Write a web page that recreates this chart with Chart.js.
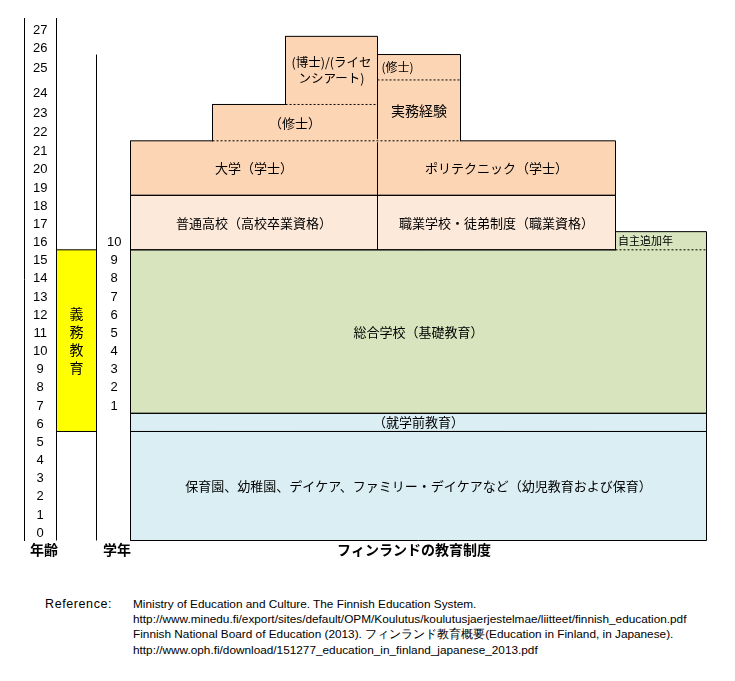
<!DOCTYPE html>
<html lang="ja">
<head>
<meta charset="utf-8">
<script src="https://cdn.jsdelivr.net/npm/chart.js@4.4.1/dist/chart.umd.min.js"></script>
<style>
  body { margin: 0; background: #fff; }
  #wrap { position: relative; width: 735px; height: 681px; }
  canvas { position: absolute; left: 0; top: 0; }
  .ref { position: absolute; font-family: "Liberation Sans", Arial, sans-serif; font-size: 11.8px; line-height: 14px; color: #000; white-space: nowrap; }
</style>
</head>
<body>
<div id="wrap">
  <canvas id="eduChart" width="735" height="575"></canvas>
  <div class="ref" style="left:45px;top:597px;font-size:12.5px;letter-spacing:0.6px;">Reference:</div>
  <div class="ref" style="left:133px;top:597px;">Ministry of Education and Culture. The Finnish Education System.</div>
  <div class="ref" style="left:133px;top:612px;">http://www.minedu.fi/export/sites/default/OPM/Koulutus/koulutusjaerjestelmae/liitteet/finnish_education.pdf</div>
  <div class="ref" style="left:133px;top:627px;">Finnish National Board of Education (2013). フィンランド教育概要(Education in Finland, in Japanese).</div>
  <div class="ref" style="left:133px;top:643px;">http://www.oph.fi/download/151277_education_in_finland_japanese_2013.pdf</div>
</div>
<script>
// ages on the left axis; the rows get taller near the top of the sheet
var ages = [0, 1, 2, 3, 4, 5, 6, 7, 8, 9, 10, 11, 12, 13, 14, 15, 16, 17, 18, 19, 20, 21, 22, 23, 24, 25, 26, 27];
var agePos = [0.4, 1.4, 2.4, 3.4, 4.4, 5.4, 6.4, 7.4, 8.4, 9.4, 10.4, 11.4, 12.4, 13.4, 14.4, 15.4,
              16.4, 17.4, 18.4, 19.4, 20.4, 21.4, 22.45, 23.5, 24.6, 26.0, 27.1, 28.1];

// school years and the age row each one sits on
var grades = [1, 2, 3, 4, 5, 6, 7, 8, 9, 10];
var gradeAge = [7, 8, 9, 10, 11, 12, 13, 14, 15, 16];

// stages of the system (age rows from / to)
var stageNames = [
  '保育園、幼稚園、デイケア、ファミリー・デイケアなど（幼児教育および保育）',
  '（就学前教育）',
  '総合学校（基礎教育）',
  '自主追加年',
  '普通高校（高校卒業資格）',
  '職業学校・徒弟制度（職業資格）',
  '大学（学士）',
  'ポリテクニック（学士）',
  '（修士）',
  '(博士)/(ライセ\nンシアート)',
  '実務経験',
  '(修士)',
  '義務教育'
];
var stageFrom = [0, 6, 7, 16, 16, 16, 19, 19, 22, 24, 22, 25.35, 6];
var stageTo   = [6, 7, 16, 17, 19, 19, 22, 22, 24, 27.75, 25.35, 26.75, 16];
var stageKind = ['care', 'care', 'basic', 'basic', 'upper', 'upper', 'higher', 'higher',
                 'higher', 'higher', 'higher', 'higher', 'compulsory'];

var axisLabels = ['年齢', '学年', 'フィンランドの教育制度'];

// drawing layout (columns in x units, text styles, dotted dividers)
var layout = {
  top: 28.76,
  cols: [[106, 682], [106, 682], [106, 682], [591, 682], [106, 353], [353, 591], [106, 353],
         [353, 591], [188, 353], [261, 353], [353, 436], [353, 436], [32, 72]],
  text: [{size: 13}, {size: 13}, {size: 13}, {size: 11, align: 'left', inset: 2.5},
         {size: 13}, {size: 13}, {size: 13}, {size: 13}, {size: 13},
         {size: 12.5, step: 16}, {size: 14}, {size: 12, align: 'left', inset: 4},
         {size: 14, vertical: true, step: 18}],
  dividers: [{stage: 3, x: [591, 682]}, {stage: 8, x: [188, 436]},
             {stage: 9, x: [261, 353]}, {stage: 11, x: [353, 436]}],
  ageLineX: 32,
  gradeLineX: 72,
  gradeLineTop: 26.75,
  axisLabelX: [19.5, 92.5, 389.5]
};

var fills = {care: '#DBEEF3', basic: '#D7E4BD', upper: '#FDE9D9', higher: '#FCD5B5', compulsory: '#FFFF00'};

function rect(x0, x1, y0, y1) {
  return [{x: x0, y: y0}, {x: x1, y: y0}, {x: x1, y: y1}, {x: x0, y: y1}, {x: x0, y: y0}];
}

var datasets = [];
stageNames.forEach(function (name, i) {
  var c = layout.cols[i];
  datasets.push({
    label: name,
    data: rect(c[0], c[1], stageFrom[i], stageTo[i]),
    backgroundColor: fills[stageKind[i]],
    borderColor: '#000',
    borderWidth: 1,
    fill: 'shape',
    order: 4
  });
});

// plain vertical rules of the age / grade columns
datasets.push({data: [{x: layout.ageLineX, y: 0}, {x: layout.ageLineX, y: layout.top}],
  borderColor: '#000', borderWidth: 1, fill: false, order: 3});
datasets.push({data: [{x: layout.gradeLineX, y: 0}, {x: layout.gradeLineX, y: layout.gradeLineTop}],
  borderColor: '#000', borderWidth: 1, fill: false, order: 3});

// dotted dividers: cover the solid edge with the box colour, then dot it
layout.dividers.forEach(function (d) {
  var y = stageFrom[d.stage];
  datasets.push({data: [{x: d.x[0] + 0.5, y: y}, {x: d.x[1] - 0.5, y: y}],
    borderColor: fills[stageKind[d.stage]], borderWidth: 3, fill: false, order: 2});
  datasets.push({data: [{x: d.x[0], y: y}, {x: d.x[1], y: y}],
    borderColor: '#000', borderWidth: 1, borderDash: [2, 2], fill: false, order: 1});
});

var boxText = {
  id: 'boxText',
  afterDatasetsDraw: function (chart) {
    var ctx = chart.ctx, xs = chart.scales.x, ys = chart.scales.y;
    ctx.save();
    ctx.fillStyle = '#000';
    ctx.textBaseline = 'middle';
    stageNames.forEach(function (name, i) {
      var col = layout.cols[i], t = layout.text[i];
      var left = xs.getPixelForValue(col[0]), right = xs.getPixelForValue(col[1]);
      var midY = (ys.getPixelForValue(stageFrom[i]) + ys.getPixelForValue(stageTo[i])) / 2;
      ctx.font = t.size + 'px "Noto Sans CJK JP"';
      var lines = t.vertical ? Array.from(name) : name.split('\n');
      var step = t.step || t.size + 3;
      var y0 = midY - (lines.length - 1) * step / 2;
      lines.forEach(function (line, k) {
        if (t.align === 'left') {
          ctx.textAlign = 'left';
          ctx.fillText(line, left + t.inset, y0 + k * step);
        } else {
          ctx.textAlign = 'center';
          ctx.fillText(line, (left + right) / 2, y0 + k * step);
        }
      });
    });
    ctx.restore();
  }
};

function flatAxis(s) {
  s.width = 0;
  s.paddingTop = 0;
  s.paddingBottom = 0;
}

Chart.defaults.font.family = '"Noto Sans CJK JP", sans-serif';
Chart.defaults.color = '#000';

var ctx = document.getElementById('eduChart').getContext('2d');
var eduChart = new Chart(ctx, {
  type: 'line',
  data: {datasets: datasets},
  plugins: [boxText],
  options: {
    responsive: false,
    animation: false,
    events: [],
    clip: false,
    layout: {padding: {left: 24.5, right: 27.5, top: 18, bottom: 12.5}},
    elements: {point: {radius: 0}, line: {tension: 0}},
    plugins: {
      legend: {display: false},
      tooltip: {enabled: false},
      filler: {drawTime: 'beforeDatasetsDraw'}
    },
    scales: {
      x: {
        type: 'linear',
        min: 0,
        max: 683,
        grid: {display: false, drawTicks: false},
        border: {display: false},
        ticks: {
          autoSkip: false,
          maxRotation: 0,
          padding: 1,
          font: {size: 14, weight: 'bold'},
          callback: function (v, i) { return axisLabels[i]; }
        },
        afterBuildTicks: function (s) {
          s.ticks = layout.axisLabelX.map(function (v) { return {value: v}; });
        },
        afterFit: function (s) {
          s.height = 22;
          s.paddingLeft = 0;
          s.paddingRight = 0;
        }
      },
      y: {
        type: 'linear',
        position: 'left',
        min: 0,
        max: layout.top,
        weight: 1,
        grid: {display: false, drawTicks: false},
        border: {display: true, color: '#000', width: 1},
        ticks: {
          mirror: true,
          crossAlign: 'center',
          padding: 8.5,
          autoSkip: false,
          font: {size: 13, family: '"Liberation Sans", Arial, sans-serif'},
          callback: function (v, i) { return String(ages[i]); }
        },
        afterBuildTicks: function (s) {
          s.ticks = agePos.map(function (v) { return {value: v}; });
        },
        afterFit: flatAxis
      },
      grade: {
        type: 'linear',
        position: 'left',
        min: 0,
        max: layout.top,
        weight: 0,
        grid: {display: false, drawTicks: false},
        border: {display: false},
        ticks: {
          mirror: true,
          crossAlign: 'center',
          padding: 82.5,
          autoSkip: false,
          font: {size: 13, family: '"Liberation Sans", Arial, sans-serif'},
          callback: function (v, i) { return String(grades[i]); }
        },
        afterBuildTicks: function (s) {
          s.ticks = gradeAge.map(function (a) { return {value: agePos[a]}; });
        },
        afterFit: flatAxis
      }
    }
  }
});
</script>
</body>
</html>
